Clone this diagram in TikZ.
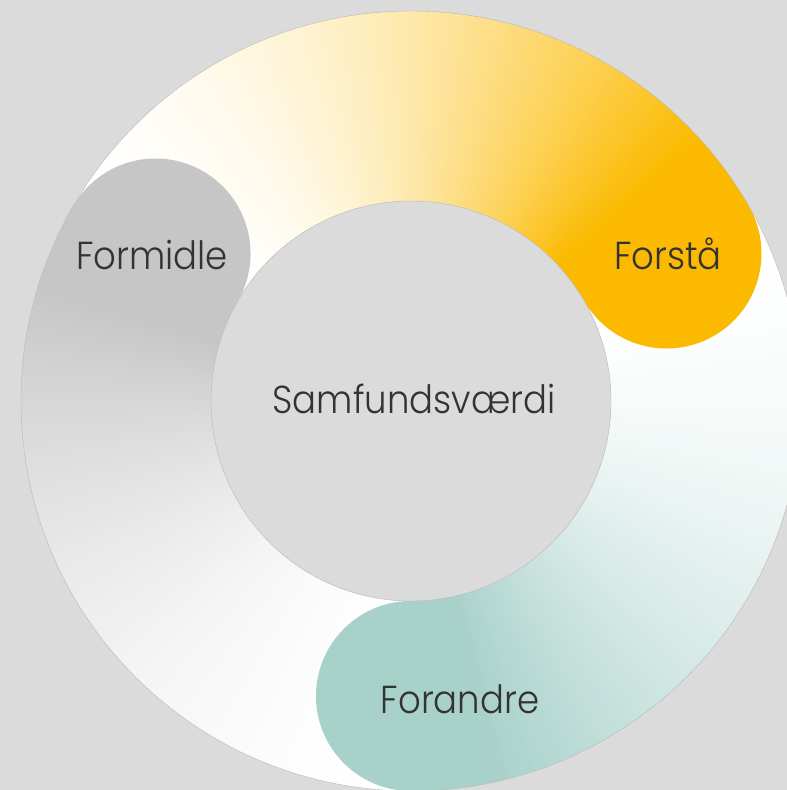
\documentclass[tikz,border=0pt]{standalone}
\usepackage{fontspec}
\setmainfont{Poppins}[UprightFont=* Light, FakeStretch=0.91]
\begin{document}
\definecolor{bgc}{HTML}{DBDBDB}
\definecolor{orangeC}{HTML}{FBBA00}
\definecolor{tealC}{HTML}{A8D1CA}
\definecolor{grayC}{HTML}{C6C6C6}
\definecolor{txtC}{HTML}{333333}
\newcommand\myband[2]{% #1 start angle, #2 colour
  \foreach \k in {0,...,119}{
    \pgfmathsetmacro\mys{min(1,(\k+0.5)/108)}
    \pgfmathsetmacro\myt{100*(\mys)^1.9}
    \pgfmathsetmacro\aa{#1-\k-1}
    \pgfmathsetmacro\bb{#1-\k+0.4}
    \fill[#2!\myt!white] (\aa:200) arc[start angle=\aa,end angle=\bb,radius=200] -- (\bb:390) arc[start angle=\bb,end angle=\aa,radius=390] -- cycle;
  }}
\newcommand\mycap[2]{% #1 end angle, #2 colour
  \pgfmathsetmacro\ca{#1+1}
  \pgfmathsetmacro\cs{#1+180}
  \pgfmathsetmacro\ce{#1+360}
  \fill[#2] (\ca:200) arc[start angle=\ca,end angle=#1,radius=200]
     arc[start angle=\cs,end angle=\ce,radius=95]
     arc[start angle=#1,end angle=\ca,radius=390] -- cycle;}
\begin{tikzpicture}[x=1pt,y=1pt,
  lbl/.style={anchor=base,text=txtC,font=\fontsize{39}{42}\selectfont,inner sep=0pt},
  edge/.style={draw=black!28,line width=0.4pt}]
\fill[bgc] (0,0) rectangle (787,-790);
\useasboundingbox (0,0) rectangle (787,-790);
\begin{scope}[shift={(411,-401)}]
  \myband{150}{orangeC}
  \myband{30}{tealC}
  \myband{270}{grayC}
  \mycap{30}{orangeC}
  \mycap{270}{tealC}
  \mycap{150}{grayC}
  \fill[bgc] (0,0) circle[radius=200];
  \draw[edge] (0,0) circle[radius=200];
  \draw[edge] (0,0) circle[radius=390];
\end{scope}
\node[lbl] (center) at (414,-413) {Samfundsværdi};
\node[lbl] (formidle) at (152,-269) {Formidle};
\node[lbl] (forstaa) at (668,-269) {Forstå};
\node[lbl] (forandre) at (460,-713) {Forandre};
\end{tikzpicture}
\end{document}
